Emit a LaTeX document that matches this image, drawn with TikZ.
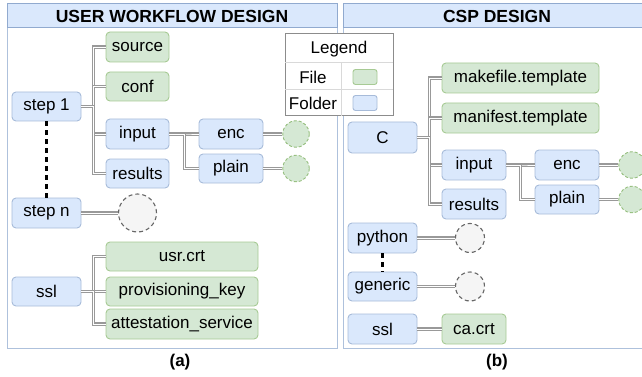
\documentclass[tikz,border=0pt]{standalone}
\usepackage{fontspec}
\setmainfont{Liberation Sans}
\definecolor{blueF}{HTML}{DAE8FC}
\definecolor{blueD}{HTML}{6C8EBF}
\definecolor{greenF}{HTML}{D5E8D4}
\definecolor{greenD}{HTML}{82B366}
\definecolor{grayF}{HTML}{F5F5F5}
\definecolor{grayD}{HTML}{666666}
\begin{document}
\begin{tikzpicture}[x=1pt,y=-1pt,
  box/.style={rounded corners=4pt, line width=0.9pt, inner sep=0pt, font=\fontsize{17}{20}\selectfont, minimum height=29pt},
  folder/.style={box, draw=blueD!60, fill=blueF},
  file/.style={box, draw=greenD!70, fill=greenF},
  gcirc/.style={circle, inner sep=0pt, draw=greenD!85, fill=greenF, dash pattern=on 3pt off 2pt, line width=0.9pt},
  ecirc/.style={circle, inner sep=0pt, draw=grayD, fill=grayF, dash pattern=on 4pt off 3pt, line width=1.1pt},
  link/.style={draw=black!40, double=white, double distance=0.9pt, line width=1.1pt},
  dots/.style={draw=black, dash pattern=on 5pt off 4pt, line width=2.1pt},
  panel/.style={draw=blueD!55, line width=1pt},
  titlebar/.style={draw=blueD!75, fill=blueF, line width=1pt},
  titletext/.style={font=\fontsize{17.5}{20}\selectfont\bfseries},
  legtext/.style={font=\fontsize{17}{20}\selectfont},
]
\useasboundingbox (0,0) rectangle (642,377);
\clip (0,0) rectangle (642,377);

% panels
\draw[panel] (7,4) rectangle (337,348);
\draw[titlebar] (7,4) rectangle (337,28);
\node[titletext] (tA) at (172,16.5) {USER WORKFLOW DESIGN};
\draw[panel] (343,4) rectangle (660,348);
\draw[titlebar] (343,4) rectangle (660,28);
\node[titletext] (tB) at (497,16.5) {CSP DESIGN};
\node[font=\fontsize{17}{20}\selectfont\bfseries] (la) at (180,362) {(a)};
\node[font=\fontsize{17}{20}\selectfont\bfseries] (lb) at (497,362) {(b)};

% left panel nodes
\node[folder, minimum width=69pt] (s1) at (46.5,106.5) {step 1};
\node[file, minimum width=63pt, minimum height=30pt] (src) at (137.5,47) {source};
\node[file, minimum width=63pt] (conf) at (137.5,86.5) {conf};
\node[folder, minimum width=63pt, minimum height=30pt] (inL) at (137.5,134) {input};
\node[folder, minimum width=63pt] (resL) at (137.5,173.5) {results};
\node[folder, minimum width=64pt, minimum height=30pt] (encL) at (231,134) {enc};
\node[folder, minimum width=64pt] (plL) at (231,168.5) {plain};
\node[gcirc, minimum size=26.5pt] (encLc) at (296,134) {};
\node[gcirc, minimum size=26.5pt] (plLc) at (296,168.5) {};
\node[folder, minimum width=69pt, minimum height=30pt] (sn) at (46.5,213) {step n};
\node[ecirc, minimum size=38pt] (snc) at (137.5,213) {};
\node[folder, minimum width=69pt] (sslL) at (46.5,291.5) {ssl};
\node[file, minimum width=152pt] (usr) at (182,256.5) {usr.crt};
\node[file, minimum width=152pt] (prov) at (182,291.5) {provisioning\_key};
\node[file, minimum width=152pt, minimum height=30pt] (att) at (182,324) {attestation\_service};

% left connectors
\foreach \t in {src,conf,inL,resL}
  \draw[link] (s1.east) -- ([xshift=12pt]s1.east) |- (\t.west);
\foreach \t in {encL,plL}
  \draw[link] (inL.east) -- ([xshift=15pt]inL.east) |- (\t.west);
\draw[link] (encL.east) -- (encLc.west);
\draw[link] (plL.east) -- (plLc.west);
\draw[link] (sn.east) -- (snc.west);
\foreach \t in {usr,prov,att}
  \draw[link] (sslL.east) -- ([xshift=12pt]sslL.east) |- (\t.west);
\draw[dots] (s1.south) -- (sn.north);

% right panel nodes
\node[folder, minimum width=69pt, minimum height=31pt] (C) at (382.5,137.5) {C};
\node[file, minimum width=157pt, minimum height=30pt] (mk) at (520.5,78) {makefile.template};
\node[file, minimum width=157pt, minimum height=30pt] (mf) at (520.5,118) {manifest.template};
\node[folder, minimum width=64pt, minimum height=30pt] (inR) at (474,165) {input};
\node[folder, minimum width=64pt, minimum height=30pt] (resR) at (474,204) {results};
\node[folder, minimum width=64pt, minimum height=30pt] (encR) at (567,165) {enc};
\node[folder, minimum width=64pt] (plR) at (567,199.5) {plain};
\node[gcirc, minimum size=26.5pt] (encRc) at (632,165) {};
\node[gcirc, minimum size=26.5pt] (plRc) at (632,199.5) {};
\node[folder, minimum width=69pt, minimum height=30pt] (py) at (382.5,238) {python};
\node[ecirc, minimum size=29pt] (pyc) at (470,238) {};
\node[folder, minimum width=69pt] (gen) at (382.5,286.5) {generic};
\node[ecirc, minimum size=29pt] (genc) at (470,286.5) {};
\node[folder, minimum width=69pt, minimum height=30pt] (sslR) at (382.5,329) {ssl};
\node[file, minimum width=64pt, minimum height=30pt] (ca) at (474,329) {ca.crt};

% right connectors
\foreach \t in {mk,mf,inR,resR}
  \draw[link] (C.east) -- ([xshift=12pt]C.east) |- (\t.west);
\foreach \t in {encR,plR}
  \draw[link] (inR.east) -- ([xshift=14pt]inR.east) |- (\t.west);
\draw[link] (encR.east) -- (encRc.west);
\draw[link] (plR.east) -- (plRc.west);
\draw[link] (py.east) -- (pyc.west);
\draw[link] (gen.east) -- (genc.west);
\draw[link] (sslR.east) -- (ca.west);
\draw[dots] (py.south) -- (gen.north);

% legend
\draw[draw=gray!90, fill=white, line width=1pt] (285,34) rectangle (393,116);
\draw[draw=gray!30, line width=1pt] (285,63) -- (393,63);
\draw[draw=gray!30, line width=1pt] (285,90) -- (393,90);
\draw[draw=gray!30, line width=1pt] (341,63) -- (341,116);
\node[legtext] (lgH) at (339,49) {Legend};
\node[legtext] (lgF) at (313,77) {File};
\node[legtext] (lgD) at (313,103) {Folder};
\node[draw=greenD!70, fill=greenF, rounded corners=2.5pt, line width=0.9pt, minimum width=24pt, minimum height=15pt, inner sep=0pt] (swF) at (365,77) {};
\node[draw=blueD!60, fill=blueF, rounded corners=2.5pt, line width=0.9pt, minimum width=24pt, minimum height=15pt, inner sep=0pt] (swD) at (365,103) {};
\end{tikzpicture}
\end{document}
